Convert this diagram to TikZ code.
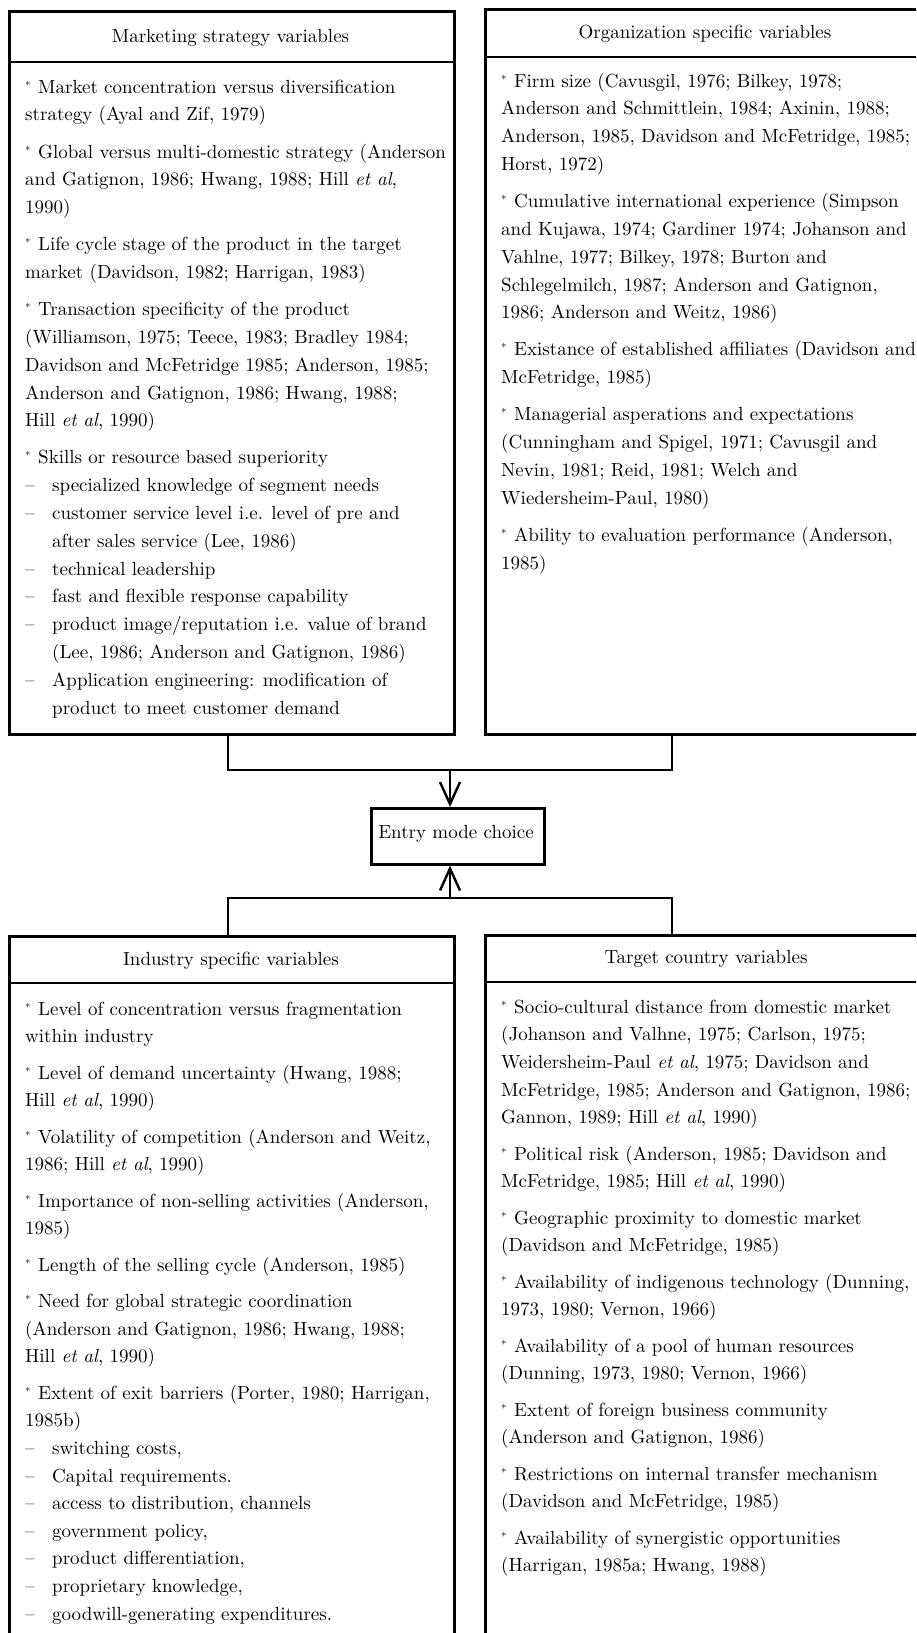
\documentclass[tikz,border=0pt]{standalone}
\usepackage{fontspec}
\setmainfont{lmroman10-regular.otf}[ItalicFont=lmroman10-italic.otf]
\usetikzlibrary{arrows.meta}

% bullet marks used in the lists
\newcommand\itm{\strut\makebox[13pt][l]{\raisebox{4pt}{\fontsize{11}{11}\selectfont *}}}
\newcommand\dsh{\makebox[27pt][l]{--}}
\newcommand\cnt{\makebox[27pt]{}}
\newcommand\etal{\textit{et al}}
% extra space between items: upper and lower groups
\def\tgap{9.3pt}
\def\bgap{8.8pt}

\tikzset{
  txt/.style={font=\fontsize{19}{27.6}\selectfont},
  box/.style={draw, line width=2.6pt, anchor=north west, inner sep=0pt, txt},
  rule/.style={line width=2pt},
  link/.style={line width=2.4pt, line join=miter},
  arr/.style={link, -{Straight Barb[length=22pt, width=20pt]}},
  head/.style={txt, anchor=base, inner sep=0pt},
  body/.style={txt, anchor=north west, align=left, inner sep=0pt},
  upper/.style={font=\fontsize{19}{27.8}\selectfont},
}

\begin{document}
\begin{tikzpicture}[x=1pt, y=-1pt]
\useasboundingbox (0,0) rectangle (916,1633);
\clip (0,0) rectangle (916,1633);

% the four variable groups
\node[box, minimum width=445pt, minimum height=723pt] (msv) at (8,10) {};
\node[box, minimum width=440pt, minimum height=725pt] (osv) at (484,8) {};
\node[box, minimum width=445pt, minimum height=720pt] (isv) at (8,935) {};
\node[box, minimum width=440pt, minimum height=720pt] (tcv) at (484,934) {};

% header rules
\draw[rule] ([yshift=-52pt]msv.north west) -- ([yshift=-52pt]msv.north east);
\draw[rule] ([yshift=-49pt]osv.north west) -- ([yshift=-49pt]osv.north east);
\draw[rule] ([yshift=-48pt]isv.north west) -- ([yshift=-48pt]isv.north east);
\draw[rule] ([yshift=-48pt]tcv.north west) -- ([yshift=-48pt]tcv.north east);

% headers
\node[head] (msvh) at (230.5,42) {Marketing strategy variables};
\node[head] (osvh) at (705,38) {Organization specific variables};
\node[head] (isvh) at (231,965) {Industry specific variables};
\node[head] (tcvh) at (706,963) {Target country variables};

% central box
\node[box, minimum width=173pt, minimum height=56pt] (emc) at (370,807) {};
\node[head] (emct) at (456,838) {Entry mode choice};

% connectors
\coordinate (tl) at (228,770);
\coordinate (tr) at (672,770);
\coordinate (tj) at (450,770);
\coordinate (bl) at (228,898);
\coordinate (br) at (672,898);
\coordinate (bj) at (450,898);
\draw[link] (msv.south -| tl) -- (tl) -- (tr) -- (osv.south -| tr);
\draw[arr] (tj) -- (tj |- emc.north);
\draw[link] (isv.north -| bl) -- (bl) -- (br) -- (tcv.north -| br);
\draw[arr] (bj) -- (bj |- emc.south);

% list texts (first baseline sits one strut height below the node top)
\node[body, upper] (msvb) at (25,73.5) {%
\itm Market concentration versus diversification\\
strategy (Ayal and Zif, 1979)\\[\tgap]
\itm Global versus multi-domestic strategy (Anderson\\
and Gatignon, 1986; Hwang, 1988; Hill \etal,\\
1990)\\[\tgap]
\itm Life cycle stage of the product in the target\\
market (Davidson, 1982; Harrigan, 1983)\\[\tgap]
\itm Transaction specificity of the product\\
(Williamson, 1975; Teece, 1983; Bradley 1984;\\
Davidson and McFetridge 1985; Anderson, 1985;\\
Anderson and Gatignon, 1986; Hwang, 1988;\\
Hill \etal, 1990)\\[\tgap]
\itm Skills or resource based superiority\\
\dsh specialized knowledge of segment needs\\
\dsh customer service level i.e. level of pre and\\
\cnt after sales service (Lee, 1986)\\
\dsh technical leadership\\
\dsh fast and flexible response capability\\
\dsh product image/reputation i.e. value of brand\\
\cnt (Lee, 1986; Anderson and Gatignon, 1986)\\
\dsh Application engineering: modification of\\
\cnt product to meet customer demand};

\node[body, upper] (osvb) at (501,67.5) {%
\itm Firm size (Cavusgil, 1976; Bilkey, 1978;\\
Anderson and Schmittlein, 1984; Axinin, 1988;\\
Anderson, 1985, Davidson and McFetridge, 1985;\\
Horst, 1972)\\[\tgap]
\itm Cumulative international experience (Simpson\\
and Kujawa, 1974; Gardiner 1974; Johanson and\\
Vahlne, 1977; Bilkey, 1978; Burton and\\
Schlegelmilch, 1987; Anderson and Gatignon,\\
1986; Anderson and Weitz, 1986)\\[\tgap]
\itm Existance of established affiliates (Davidson and\\
McFetridge, 1985)\\[\tgap]
\itm Managerial asperations and expectations\\
(Cunningham and Spigel, 1971; Cavusgil and\\
Nevin, 1981; Reid, 1981; Welch and\\
Wiedersheim-Paul, 1980)\\[\tgap]
\itm Ability to evaluation performance (Anderson,\\
1985)};

\node[body] (isvb) at (25,995.7) {%
\itm Level of concentration versus fragmentation\\
within industry\\[\bgap]
\itm Level of demand uncertainty (Hwang, 1988;\\
Hill \etal, 1990)\\[\bgap]
\itm Volatility of competition (Anderson and Weitz,\\
1986; Hill \etal, 1990)\\[\bgap]
\itm Importance of non-selling activities (Anderson,\\
1985)\\[\bgap]
\itm Length of the selling cycle (Anderson, 1985)\\[\bgap]
\itm Need for global strategic coordination\\
(Anderson and Gatignon, 1986; Hwang, 1988;\\
Hill \etal, 1990)\\[\bgap]
\itm Extent of exit barriers (Porter, 1980; Harrigan,\\
1985b)\\
\dsh switching costs,\\
\dsh Capital requirements.\\
\dsh access to distribution, channels\\
\dsh government policy,\\
\dsh product differentiation,\\
\dsh proprietary knowledge,\\
\dsh goodwill-generating expenditures.};

\node[body] (tcvb) at (501,993.7) {%
\itm Socio-cultural distance from domestic market\\
(Johanson and Valhne, 1975; Carlson, 1975;\\
Weidersheim-Paul \etal, 1975; Davidson and\\
McFetridge, 1985; Anderson and Gatignon, 1986;\\
Gannon, 1989; Hill \etal, 1990)\\[\bgap]
\itm Political risk (Anderson, 1985; Davidson and\\
McFetridge, 1985; Hill \etal, 1990)\\[\bgap]
\itm Geographic proximity to domestic market\\
(Davidson and McFetridge, 1985)\\[\bgap]
\itm Availability of indigenous technology (Dunning,\\
1973, 1980; Vernon, 1966)\\[\bgap]
\itm Availability of a pool of human resources\\
(Dunning, 1973, 1980; Vernon, 1966)\\[\bgap]
\itm Extent of foreign business community\\
(Anderson and Gatignon, 1986)\\[\bgap]
\itm Restrictions on internal transfer mechanism\\
(Davidson and McFetridge, 1985)\\[\bgap]
\itm Availability of synergistic opportunities\\
(Harrigan, 1985a; Hwang, 1988)};
\end{tikzpicture}
\end{document}
